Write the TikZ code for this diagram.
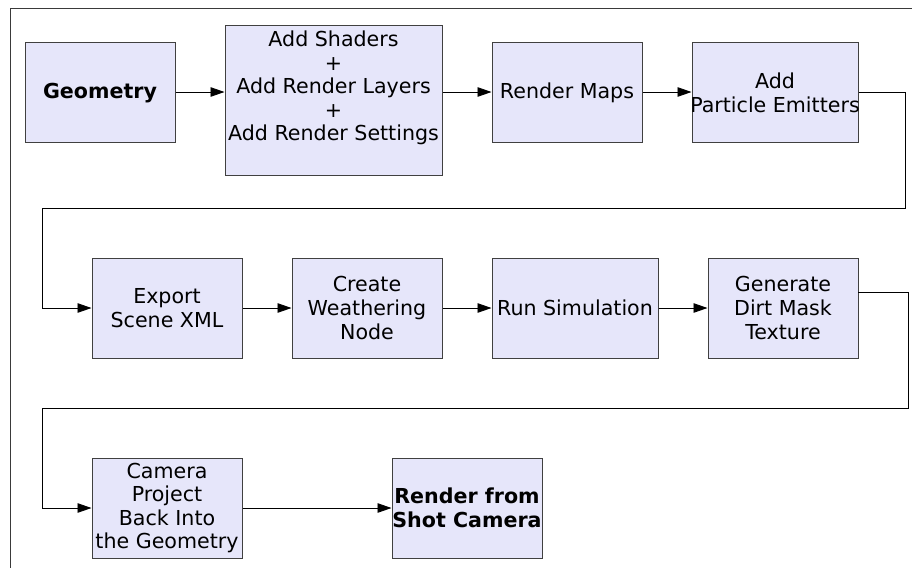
\documentclass[tikz,border=0pt]{standalone}
\usepackage{fontspec}
\setmainfont{DejaVu Sans}
\usetikzlibrary{arrows.meta}
\definecolor{boxfill}{HTML}{E6E6FA}
\definecolor{boxline}{HTML}{404040}
\definecolor{frameline}{HTML}{3A3A3A}
\begin{document}
\begin{tikzpicture}[x=1pt,y=-1pt,
  stepbox/.style={draw=boxline,fill=boxfill,line width=1pt,rectangle,inner sep=0pt,
    minimum width=150pt,minimum height=100pt},
  steptext/.style={inner sep=0pt,align=center,
    font=\fontsize{20.6pt}{23.6pt}\selectfont},
  flow/.style={line width=0.9pt,draw=black},
  arr/.style={flow,-{Triangle[length=14pt,width=9.5pt]}}]
\useasboundingbox (0,0) rectangle (912,568);

% outer frame
\draw[frameline,line width=1pt] (912,8) -- (10,8) -- (10,568);

% row 1
\node[stepbox] (geo) at (100,92) {};
\node[stepbox,minimum width=217pt,minimum height=150pt] (shaders) at (333.5,100) {};
\node[stepbox] (maps) at (567,92) {};
\node[stepbox,minimum width=166pt] (emit) at (775,92) {};

\node[steptext,font=\fontsize{20.6pt}{23.6pt}\selectfont\bfseries] (geo-t) at (100,93) {Geometry};
\node[steptext] (shaders-t) at (333.5,88) {Add Shaders\\+\\Add Render Layers\\+\\Add Render Settings};
\node[steptext] (maps-t) at (567,93) {Render Maps};
\node[steptext] (emit-t) at (775,93) {Add\\Particle Emitters};

% row 2
\node[stepbox] (export) at (167,308) {};
\node[stepbox] (weather) at (367,308) {};
\node[stepbox,minimum width=166pt] (sim) at (575,308) {};
\node[stepbox] (dirt) at (783,308) {};

\node[steptext] (export-t) at (export.center) {Export\\Scene XML};
\node[steptext] (weather-t) at (weather.center) {Create\\Weathering\\Node};
\node[steptext] (sim-t) at (sim.center) {Run Simulation};
\node[steptext] (dirt-t) at (dirt.center) {Generate\\Dirt Mask\\Texture};

% row 3
\node[stepbox] (camera) at (167,508) {};
\node[stepbox] (final) at (467,508) {};

\node[steptext] (camera-t) at (camera.center) {Camera\\Project\\Back Into\\the Geometry};
\node[steptext,font=\fontsize{20.6pt}{23.6pt}\selectfont\bfseries] (final-t) at (final.center) {Render from\\Shot Camera};

% turning points of the wrap-around lines
\coordinate (r1a) at (905,92);
\coordinate (r1b) at (905,208);
\coordinate (l1a) at (42,208);
\coordinate (l1b) at (42,308);
\coordinate (dirt-out) at (858,292);
\coordinate (r2a) at (908,292);
\coordinate (r2b) at (908,408);
\coordinate (l2a) at (42,408);
\coordinate (l2b) at (42,508);

% connectors
\draw[arr] (geo.east) -- (shaders.west |- geo.east);
\draw[arr] (shaders.east |- maps.west) -- (maps.west);
\draw[arr] (maps.east) -- (emit.west);
\draw[arr] (emit.east) -- (r1a) -- (r1b) -- (l1a) -- (l1b) -- (export.west);
\draw[arr] (export.east) -- (weather.west);
\draw[arr] (weather.east) -- (sim.west);
\draw[arr] (sim.east) -- (dirt.west);
\draw[arr] (dirt-out) -- (r2a) -- (r2b) -- (l2a) -- (l2b) -- (camera.west);
\draw[arr] (camera.east) -- (final.west);
\end{tikzpicture}
\end{document}
